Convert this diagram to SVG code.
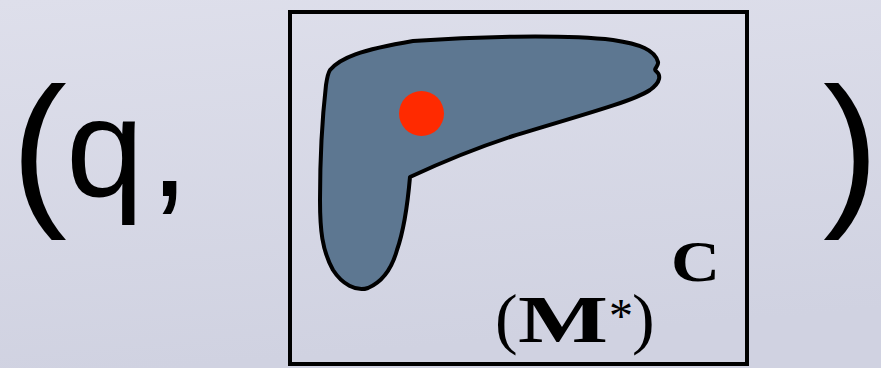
<svg xmlns="http://www.w3.org/2000/svg" width="881" height="368" viewBox="0 0 881 368">
<defs>
<linearGradient id="bg" x1="0" y1="0" x2="0.2" y2="1">
<stop offset="0" stop-color="#dedfeb"/>
<stop offset="1" stop-color="#d0d2e1"/>
</linearGradient>
</defs>
<style>
.big{font-family:"Liberation Sans",Arial,sans-serif;fill:#000}
.math{font-family:"Liberation Serif","DejaVu Serif",serif;fill:#000}
</style>
<rect width="881" height="368" fill="url(#bg)"/>
<g id="left-text">
<text class="big" x="11" y="205" font-size="168">(</text>
<text class="big" x="66" y="196" font-size="140">q</text>
<text class="big" x="150" y="196" font-size="140">,</text>
</g>
<g id="box">
<rect x="290" y="12" width="457" height="352" fill="none" stroke="#000" stroke-width="4"/>
<path id="blob" d="M330,70 C340,58 360,50 413,41 C470,37 560,34 613,40 C640,44 655,50 658,62 C659,66 653,69 656,71 C661,75 661,82 650,90 C635,100 600,110 513,136 C470,150 440,163 410,177 C408,200 404,230 397,250 C392,268 382,282 368,288 C356,292 342,284 333,270 C322,250 320,230 320,200 C320,160 322,120 326,85 C327,78 328,73 330,70 Z" fill="#5d7791" stroke="#000" stroke-width="4" stroke-linejoin="round"/>
<circle cx="421.5" cy="113.5" r="22.5" fill="#ff2a00"/>
<text class="math" x="495" y="341" font-size="68">(</text>
<text class="math" x="518" y="342" font-size="68" font-weight="bold" textLength="90" lengthAdjust="spacingAndGlyphs">M</text>
<text class="math" x="609" y="332" font-size="48">*</text>
<text class="math" x="632" y="341" font-size="68">)</text>
<text class="math" x="671" y="281" font-size="58" font-weight="bold" textLength="49" lengthAdjust="spacingAndGlyphs">C</text>
</g>
<g id="right-text"><text class="big" x="823" y="205" font-size="168">)</text></g>
</svg>
